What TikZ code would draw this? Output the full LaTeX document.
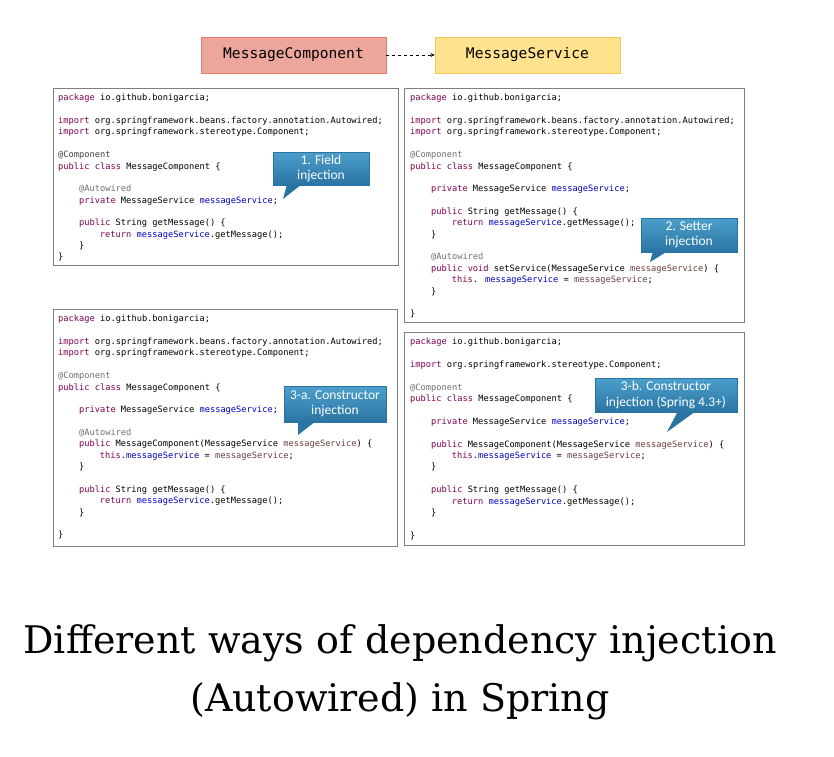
\documentclass[tikz,border=0pt]{standalone}
\usepackage{fontspec}
\setmainfont{DejaVu Serif}
\newfontfamily\codefont{DejaVu Sans Mono}
\newfontfamily\calloutfont{Carlito}
\usetikzlibrary{positioning,arrows.meta}
\definecolor{kwcol}{HTML}{7F0055}
\definecolor{ancol}{HTML}{707070}
\definecolor{fdcol}{HTML}{0000C0}
\definecolor{lvcol}{HTML}{6A3E3E}
\definecolor{boxgray}{HTML}{7F7F7F}
\definecolor{mcfill}{HTML}{EDA69C}
\definecolor{mcdraw}{HTML}{E07B6C}
\definecolor{msfill}{HTML}{FFE28E}
\definecolor{msdraw}{HTML}{F4C860}
\definecolor{calltop}{HTML}{4C9FCB}
\definecolor{callbot}{HTML}{2A74A3}
\newcommand{\kw}[1]{\textcolor{kwcol}{#1}}
\newcommand{\an}[1]{\textcolor{ancol}{#1}}
\newcommand{\fd}[1]{\textcolor{fdcol}{#1}}
\newcommand{\lv}[1]{\textcolor{lvcol}{#1}}
\newcommand{\ind}{\hspace*{2.4em}}
\tikzset{
  % --- class boxes on top ---------------------------------------------------
  clsbox/.style={rectangle,minimum width=185,minimum height=36,line width=0.8pt,
                 font=\codefont\fontsize{14.6}{16}\selectfont},
  mcbox/.style={clsbox,fill=mcfill,draw=mcdraw},
  msbox/.style={clsbox,fill=msfill,draw=msdraw},
  dep/.style={-{Stealth[length=4pt,width=4pt]},dashed,line width=0.7pt},
  % --- code listings --------------------------------------------------------
  codebox/.style={rectangle,draw=boxgray,line width=0.8pt,fill=white,
                  anchor=north west,inner sep=0pt},
  code/.style={anchor=north west,inner sep=0pt,align=left,
               font=\codefont\fontsize{8.7}{11.37}\selectfont},
  % --- callouts --------------------------------------------------------------
  callout/.style={rectangle,top color=calltop,bottom color=callbot,draw=callbot,
                  line width=0.4pt,text=white,align=center,inner sep=2pt,
                  font=\calloutfont\fontsize{13.5}{15.5}\selectfont},
  ptr/.style={fill=callbot},
  title/.style={align=center,font=\fontsize{38}{58}\selectfont},
}
\begin{document}
\begin{tikzpicture}[x=1pt,y=-1pt]
  \useasboundingbox (0,0) rectangle (834,756);

  % ---- the two classes ----
  \node[mcbox] (mcomp) at (293.5,55) {MessageComponent};
  \node[msbox] (msrv)  at (527.5,55) {MessageService};
  \draw[dep] (mcomp) -- (msrv);

  % ---- frames ----
  \node[codebox,minimum width=345,minimum height=177] (box1) at (53,88)  {};
  \node[codebox,minimum width=340,minimum height=234] (box2) at (404,88) {};
  \node[codebox,minimum width=344,minimum height=237] (box3) at (53,309) {};
  \node[codebox,minimum width=340,minimum height=213] (box4) at (404,332) {};

  % ---- 1. field injection ----
  \node[code,xshift=5pt,yshift=-6pt] (src1) at (box1.north west) {%
\kw{package} io.github.bonigarcia;\\
\mbox{}\\
\kw{import} org.springframework.beans.factory.annotation.Autowired;\\
\kw{import} org.springframework.stereotype.Component;\\
\mbox{}\\
\textcolor{black!75}{@Component}\\
\kw{public} \kw{class} MessageComponent \{\\
\mbox{}\\
\ind\an{@Autowired}\\
\ind\kw{private} MessageService \fd{messageService};\\
\mbox{}\\
\ind\kw{public} String getMessage() \{\\
\ind\ind\kw{return} \fd{messageService}.getMessage();\\
\ind\}\\
\}};

  % ---- 2. setter injection ----
  \node[code,xshift=6pt,yshift=-6pt] (src2) at (box2.north west) {%
\kw{package} io.github.bonigarcia;\\
\mbox{}\\
\kw{import} org.springframework.beans.factory.annotation.Autowired;\\
\kw{import} org.springframework.stereotype.Component;\\
\mbox{}\\
\an{@Component}\\
\kw{public} \kw{class} MessageComponent \{\\
\mbox{}\\
\ind\kw{private} MessageService \fd{messageService};\\
\mbox{}\\
\ind\kw{public} String getMessage() \{\\
\ind\ind\kw{return} \fd{messageService}.getMessage();\\
\ind\}\\
\mbox{}\\
\ind\an{@Autowired}\\
\ind\kw{public} \kw{void} setService(MessageService \lv{messageService}) \{\\
\ind\ind\kw{this}. \fd{messageService} = \lv{messageService};\\
\ind\}\\
\mbox{}\\
\}};

  % ---- 3-a. constructor injection ----
  \node[code,xshift=5pt,yshift=-6pt] (src3) at (box3.north west) {%
\kw{package} io.github.bonigarcia;\\
\mbox{}\\
\kw{import} org.springframework.beans.factory.annotation.Autowired;\\
\kw{import} org.springframework.stereotype.Component;\\
\mbox{}\\
\an{@Component}\\
\kw{public} \kw{class} MessageComponent \{\\
\mbox{}\\
\ind\kw{private} MessageService \fd{messageService};\\
\mbox{}\\
\ind\an{@Autowired}\\
\ind\kw{public} MessageComponent(MessageService \lv{messageService}) \{\\
\ind\ind\kw{this}.\fd{messageService} = \lv{messageService};\\
\ind\}\\
\mbox{}\\
\ind\kw{public} String getMessage() \{\\
\ind\ind\kw{return} \fd{messageService}.getMessage();\\
\ind\}\\
\mbox{}\\
\}};

  % ---- 3-b. constructor injection, no annotation ----
  \node[code,xshift=6pt,yshift=-6pt] (src4) at (box4.north west) {%
\kw{package} io.github.bonigarcia;\\
\mbox{}\\
\kw{import} org.springframework.stereotype.Component;\\
\mbox{}\\
\an{@Component}\\
\kw{public} \kw{class} MessageComponent \{\\
\mbox{}\\
\ind\kw{private} MessageService \fd{messageService};\\
\mbox{}\\
\ind\kw{public} MessageComponent(MessageService \lv{messageService}) \{\\
\ind\ind\kw{this}.\fd{messageService} = \lv{messageService};\\
\ind\}\\
\mbox{}\\
\ind\kw{public} String getMessage() \{\\
\ind\ind\kw{return} \fd{messageService}.getMessage();\\
\ind\}\\
\mbox{}\\
\}};

  % ---- callouts ----
  \coordinate (t1) at (283,199);
  \coordinate (t2) at (650,262);
  \coordinate (t3) at (298,435);
  \coordinate (t4) at (667,432);
  \fill[ptr] (287,184) -- (t1) -- (302,184) -- cycle;
  \fill[ptr] (653,251) -- (t2) -- (668,251) -- cycle;
  \fill[ptr] (298,421) -- (t3) -- (316,421) -- cycle;
  \fill[ptr] (678,411) -- (t4) -- (696,411) -- cycle;
  \node[callout,minimum width=96,minimum height=33]  (c1) at (321,168.5) {1. Field\\injection};
  \node[callout,minimum width=96,minimum height=34]  (c2) at (689,235)   {2. Setter\\injection};
  \node[callout,minimum width=102,minimum height=36] (c3) at (335,404)   {3-a. Constructor\\injection};
  \node[callout,minimum width=142,minimum height=34] (c4) at (666,395)   {3-b. Constructor\\injection (Spring 4.3+)};

  % ---- caption ----
  \node[title] (ttl) at (400,672) {Different ways of dependency injection\\(Autowired) in Spring};
\end{tikzpicture}
\end{document}
